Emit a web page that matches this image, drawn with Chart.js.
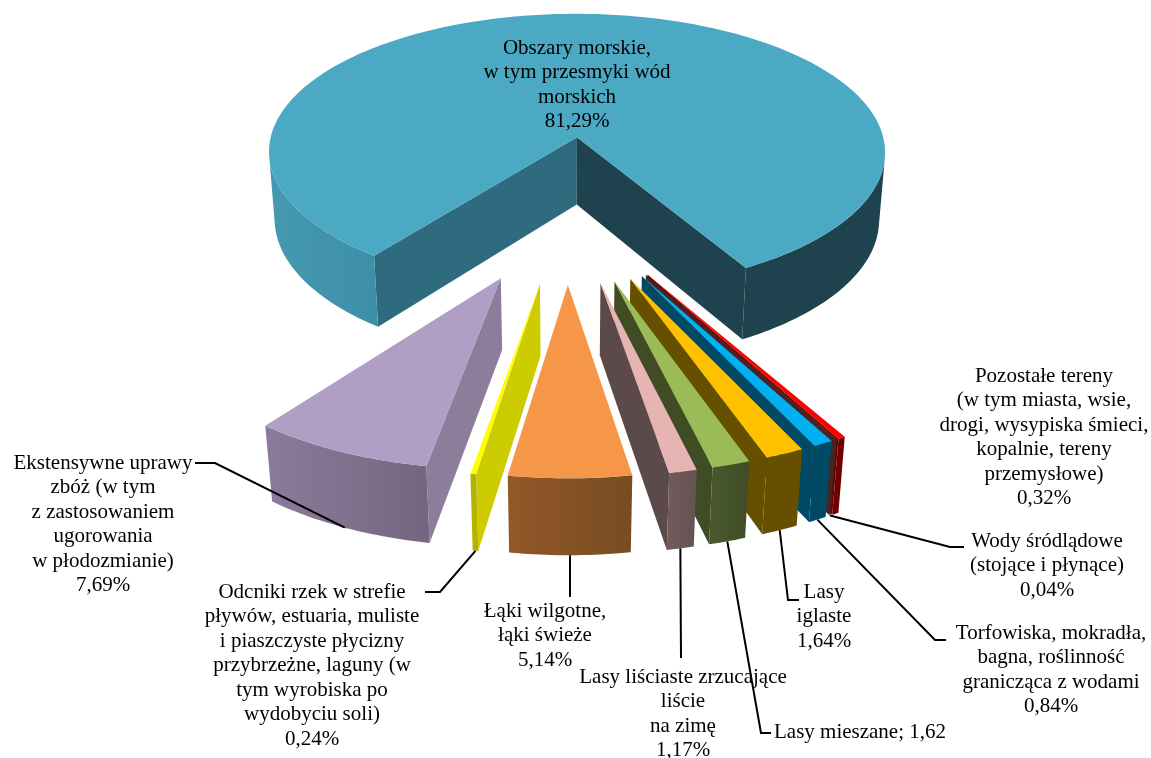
<!DOCTYPE html>
<html lang="pl">
<head>
<meta charset="utf-8">
<title>Obszary morskie</title>
<script src="https://cdn.jsdelivr.net/npm/chart.js@4"></script>
<style>
  html, body { margin: 0; padding: 0; background: #fff; }
  #wrap { position: relative; width: 1151px; height: 758px; overflow: hidden; }
</style>
</head>
<body>
<div id="wrap"><canvas id="pie" width="1151" height="758"></canvas></div>
<script>
// Data, clockwise from the big slice
const categories = [
  'Obszary morskie, w tym przesmyki wód morskich',
  'Pozostałe tereny',
  'Wody śródlądowe (stojące i płynące)',
  'Torfowiska, mokradła, bagna, roślinność granicząca z wodami',
  'Lasy iglaste',
  'Lasy mieszane',
  'Lasy liściaste zrzucające liście na zimę',
  'Łąki wilgotne, łąki świeże',
  'Odcniki rzek w strefie pływów, estuaria, muliste i piaszczyste płycizny',
  'Ekstensywne uprawy zbóż'
];
const values = [81.29, 0.32, 0.04, 0.84, 1.64, 1.62, 1.17, 5.14, 0.24, 7.69];

const labelLines = [
  ['Obszary morskie,', 'w tym przesmyki wód', 'morskich', '81,29%'],
  ['Pozostałe tereny', '(w tym miasta, wsie,', 'drogi, wysypiska śmieci,', 'kopalnie, tereny', 'przemysłowe)', '0,32%'],
  ['Wody śródlądowe', '(stojące i płynące)', '0,04%'],
  ['Torfowiska, mokradła,', 'bagna, roślinność', 'granicząca z wodami', '0,84%'],
  ['Lasy', 'iglaste', '1,64%'],
  ['Lasy mieszane; 1,62'],
  ['Lasy liściaste zrzucające', 'liście', 'na zimę', '1,17%'],
  ['Łąki wilgotne,', 'łąki świeże', '5,14%'],
  ['Odcniki rzek w strefie', 'pływów, estuaria, muliste', 'i piaszczyste płycizny', 'przybrzeżne, laguny (w', 'tym wyrobiska po', 'wydobyciu soli)', '0,24%'],
  ['Ekstensywne uprawy', 'zbóż (w tym', 'z zastosowaniem', 'ugorowania', 'w płodozmianie)', '7,69%']
];

// Colours per slice
const topColors = ['#4ba9c4', '#ff0000', '#7a3a3a', '#00b0f0', '#ffc000', '#9bbb59', '#e6b4b3', '#f59648', '#ffff00', '#b09ec4'];
const wallColors = [
  ['#2f6b7e', '#1f434e'], ['#660000', '#660000'], ['#4a2222', '#4a2222'], ['#004a66', '#004a66'], ['#665000', '#665000'],
  ['#3f4c24', '#3f4c24'], ['#5c4949', '#5c4949'], ['#7a4e22', '#7a4e22'], ['#cccc00', '#cccc00'], ['#8c7d9b', '#8c7d9b']
];
const rimStops = [
  [[0, '#4599b1'], [0.29, '#3a87a2'], [0.3, '#1f434e'], [1, '#1f434e']],
  [[0, '#700000'], [1, '#700000']],
  [[0, '#4a2222'], [1, '#4a2222']],
  [[0, '#004a66'], [1, '#004a66']],
  [[0, '#665000'], [1, '#665000']],
  [[0, '#48582c'], [1, '#404c26']],
  [[0, '#705a5a'], [1, '#665252']],
  [[0, '#925828'], [1, '#784c22']],
  [[0, '#b4b400'], [1, '#b4b400']],
  [[0, '#8b7b9b'], [1, '#746680']]
];

// Label placing: centre x, y of first line, optional elbow of the leader line
const labelBoxes = [
  { x: 577, y: 48 },
  { x: 1044, y: 376 },
  { x: 1047, y: 541, leader: [[950, 547], [964, 547]] },
  { x: 1051, y: 633, leader: [[935, 640], [946, 640]] },
  { x: 824, y: 592, leader: [[788, 600], [799, 600]] },
  { x: 860, y: 732, leader: [[761, 733], [771, 733]] },
  { x: 683, y: 677, leader: [[681, 658]] },
  { x: 545, y: 611, leader: [[570, 597]] },
  { x: 312, y: 592, leader: [[440, 592], [425, 592]] },
  { x: 103, y: 463, leader: [[215, 463], [195, 463]] }
];

// Perspective of the ground plane (units of one pie radius)
const view = { cx: 567, cy: 207, sx: 323, sy: 152, depth: 71, near: 0.113, sink: 0.02 };
const lineGap = 24.5;

function project(x, y, z) {
  const w = 1 - view.near * y + view.sink * z;
  return [view.cx + view.sx * x / w, view.cy + (view.sy * y + view.depth * z) / w];
}

function fillPoly(ctx, pts, fill) {
  ctx.beginPath();
  pts.forEach((p, i) => { if (i) ctx.lineTo(p[0], p[1]); else ctx.moveTo(p[0], p[1]); });
  ctx.closePath();
  ctx.fillStyle = fill;
  ctx.fill();
}

function polyArea(pts) {
  let a = 0;
  pts.forEach((p, i) => {
    const q = pts[(i + 1) % pts.length];
    a += p[0] * q[1] - q[0] * p[1];
  });
  return a;
}

function drawSlice(ctx, arc, i) {
  const { startAngle, endAngle, outerRadius } = arc;
  const mid = (startAngle + endAngle) / 2;
  const e = arc.options.offset / outerRadius;
  const ox = Math.cos(mid) * e, oy = Math.sin(mid) * e;
  const rim = (a, z) => project(ox + Math.cos(a), oy + Math.sin(a), z);
  const apexTop = project(ox, oy, 0), apexBot = project(ox, oy, 1);

  // radial walls, only the ones turned to the camera
  const startWall = [apexTop, rim(startAngle, 0), rim(startAngle, 1), apexBot];
  const endWall = [apexTop, rim(endAngle, 0), rim(endAngle, 1), apexBot];
  if (polyArea(startWall) < 0) fillPoly(ctx, startWall, wallColors[i][0]);
  if (polyArea(endWall) > 0) fillPoly(ctx, endWall, wallColors[i][1]);

  // outer rim, split into the runs that face the camera
  const steps = Math.max(2, Math.ceil((endAngle - startAngle) * 60));
  const angles = [];
  for (let s = 0; s <= steps; s++) angles.push(startAngle + (endAngle - startAngle) * s / steps);
  const runs = [];
  let run = null;
  for (let s = 0; s < steps; s++) {
    const quad = [rim(angles[s], 0), rim(angles[s + 1], 0), rim(angles[s + 1], 1), rim(angles[s], 1)];
    if (polyArea(quad) < 0) {
      if (!run) { run = [angles[s]]; runs.push(run); }
      run.push(angles[s + 1]);
    } else run = null;
  }
  const xs = runs.flat().map(a => rim(a, 0)[0]);
  if (xs.length) {
    const grad = ctx.createLinearGradient(Math.min(...xs), 0, Math.max(...xs), 0);
    rimStops[i].forEach(s => grad.addColorStop(s[0], s[1]));
    runs.forEach(r => {
      fillPoly(ctx, r.map(a => rim(a, 0)).concat(r.slice().reverse().map(a => rim(a, 1))), grad);
    });
  }

  // top face
  const top = [apexTop];
  for (let s = 0; s <= steps; s++) top.push(rim(angles[s], 0));
  fillPoly(ctx, top, topColors[i]);
}

const pie3d = {
  id: 'pie3d',
  // the flat arcs are replaced by the projected ones below
  beforeDatasetDraw() { return false; },
  afterDatasetsDraw(chart) {
    const ctx = chart.ctx;
    const arcs = chart.getDatasetMeta(0).data;
    const order = arcs.map((arc, i) => i).sort((a, b) => {
      if (a === 0) return -1;
      if (b === 0) return 1;
      const ma = (arcs[a].startAngle + arcs[a].endAngle) / 2;
      const mb = (arcs[b].startAngle + arcs[b].endAngle) / 2;
      return Math.abs(Math.cos(mb)) - Math.abs(Math.cos(ma));
    });
    ctx.save();
    order.forEach(i => drawSlice(ctx, arcs[i], i));

    // leader lines start on the lower rim edge of their slice
    ctx.strokeStyle = '#000';
    ctx.lineWidth = 2;
    labelBoxes.forEach((box, i) => {
      if (!box.leader) return;
      const arc = arcs[i];
      const mid = (arc.startAngle + arc.endAngle) / 2;
      const e = arc.options.offset / arc.outerRadius;
      const from = project(Math.cos(mid) * (1 + e), Math.sin(mid) * (1 + e), 1);
      ctx.beginPath();
      ctx.moveTo(from[0], from[1]);
      box.leader.forEach(p => ctx.lineTo(p[0], p[1]));
      ctx.stroke();
    });

    ctx.fillStyle = '#000';
    ctx.font = '21px "Liberation Serif", "Times New Roman", serif';
    ctx.textAlign = 'center';
    ctx.textBaseline = 'middle';
    labelLines.forEach((lines, i) => {
      lines.forEach((text, k) => ctx.fillText(text, labelBoxes[i].x, labelBoxes[i].y + k * lineGap));
    });
    ctx.restore();
  }
};

new Chart(document.getElementById('pie'), {
  type: 'pie',
  data: {
    labels: categories,
    datasets: [{ data: values, backgroundColor: topColors, borderWidth: 0, offset: 148 }]
  },
  options: {
    responsive: false,
    animation: false,
    rotation: 217.5,
    plugins: { legend: { display: false }, tooltip: { enabled: false } }
  },
  plugins: [pie3d]
});
</script>
</body>
</html>
